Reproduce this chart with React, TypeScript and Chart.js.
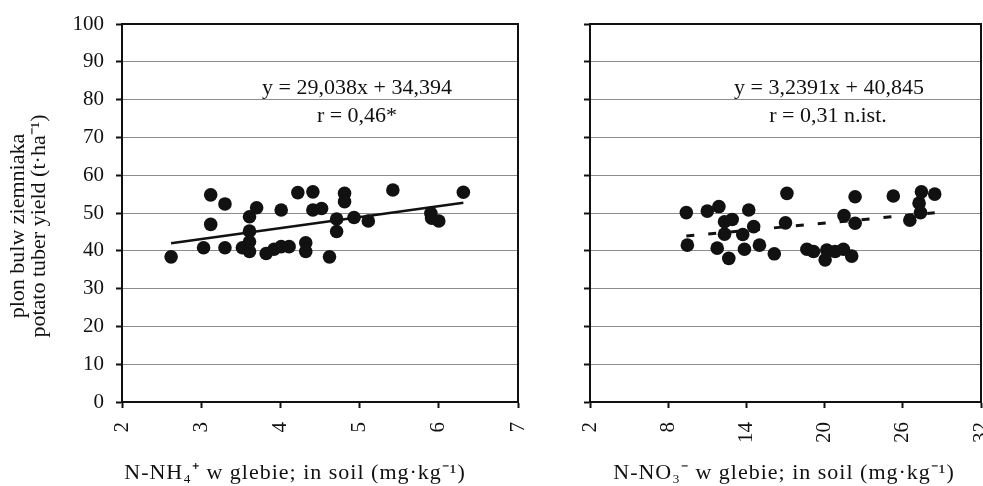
import React, { useEffect, useRef } from 'react';
import { Chart, registerables } from 'chart.js';

Chart.register(...registerables);

const FONT = '"Liberation Serif", "Times New Roman", Times, serif';
const INK = '#111111';

// ---- data: N-NH4+ panel ----
const nh4X = [2.62, 3.03, 3.12, 3.12, 3.30, 3.30, 3.52, 3.61, 3.61, 3.61, 3.61, 3.70, 3.82, 3.92, 4.01, 4.01, 4.11, 4.22, 4.32, 4.32, 4.41, 4.41, 4.52, 4.62, 4.71, 4.71, 4.81, 4.81, 4.93, 5.11, 5.42, 5.90, 5.91, 6.00, 6.31];
const nh4Yield = [38.4, 40.8, 54.8, 47.0, 52.4, 40.8, 40.8, 49.0, 45.2, 42.4, 39.8, 51.4, 39.3, 40.4, 41.1, 50.8, 41.1, 55.4, 42.1, 39.8, 55.6, 50.8, 51.2, 38.4, 48.4, 45.1, 55.2, 53.0, 48.8, 47.9, 56.1, 49.9, 48.6, 47.9, 55.5];
const nh4Trend = { slope: 2.9038, intercept: 34.394 };
const nh4Axis = { min: 2, max: 7, step: 1 };
const nh4Equation = ['y = 29,038x + 34,394', 'r = 0,46*'];
const nh4Title = 'N-NH\u2084\u207A w glebie; in soil (mg\u00B7kg\u207B\u00B9)';

// ---- data: N-NO3- panel ----
const no3X = [9.39, 9.47, 11.0, 11.89, 11.76, 12.32, 12.91, 12.32, 12.65, 13.72, 13.85, 14.18, 14.56, 15.0, 16.14, 17.11, 17.0, 18.64, 19.15, 20.17, 20.04, 20.81, 21.44, 22.08, 21.49, 22.34, 22.34, 25.27, 26.54, 27.25, 27.43, 27.36, 28.45];
const no3Yield = [50.1, 41.5, 50.5, 51.7, 40.7, 47.7, 48.3, 44.4, 38.0, 44.3, 40.4, 50.8, 46.4, 41.5, 39.2, 55.2, 47.4, 40.4, 39.8, 40.2, 37.6, 39.8, 40.4, 38.6, 49.3, 54.3, 47.3, 54.5, 48.1, 52.6, 55.6, 50.1, 55.0];
const no3Trend = { slope: 0.32391, intercept: 40.845 };
const no3Axis = { min: 2, max: 32, step: 6 };
const no3Equation = ['y = 3,2391x + 40,845', 'r = 0,31 n.ist.'];
const no3Title = 'N-NO\u2083\u207B w glebie; in soil (mg\u00B7kg\u207B\u00B9)';

// ---- shared y axis ----
const yieldAxis = { min: 0, max: 100, step: 10 };
const yTitle = ['plon bulw ziemniaka', 'potato tuber yield (t\u00B7ha\u207B\u00B9)'];

const W = 983;
const H = 486;

const textPlugin = {
  id: 'textItems',
  afterDraw(chart: any, _args: any, opts: any) {
    const ctx = chart.ctx;
    const items = (opts && opts.items) || [];
    items.forEach((it: any) => {
      ctx.save();
      ctx.font = `${it.size}px ${FONT}`;
      ctx.fillStyle = INK;
      ctx.textAlign = 'center';
      ctx.textBaseline = 'alphabetic';
      try {
        (ctx as any).letterSpacing = `${it.spacing || 0}px`;
      } catch (e) {
        /* ignore */
      }
      ctx.translate(it.x, it.y);
      if (it.rotate) ctx.rotate(it.rotate);
      ctx.fillText(it.text, 0, 0);
      ctx.restore();
    });
  },
};

const framePlugin = {
  id: 'frame',
  afterDatasetsDraw(chart: any) {
    const { ctx, chartArea: a } = chart;
    ctx.save();
    ctx.strokeStyle = INK;
    ctx.lineWidth = 2;
    ctx.beginPath();
    ctx.moveTo(a.left, a.top);
    ctx.lineTo(a.right, a.top);
    ctx.lineTo(a.right, a.bottom);
    ctx.stroke();
    ctx.restore();
  },
};

function trendPoints(xs: number[], t: { slope: number; intercept: number }) {
  const lo = Math.min(...xs);
  const hi = Math.max(...xs);
  return [lo, hi].map((x) => ({ x, y: t.slope * x + t.intercept }));
}

type PanelProps = {
  xs: number[];
  ys: number[];
  trend: { slope: number; intercept: number };
  dashed: boolean;
  xAxis: { min: number; max: number; step: number };
  showYLabels: boolean;
  yAxisWidth: number;
  padLeft: number;
  padRight: number;
  items: any[];
};

function Panel(p: PanelProps) {
  const ref = useRef<HTMLCanvasElement>(null);
  useEffect(() => {
    if (!ref.current) return;
    const chart = new Chart(ref.current, {
      type: 'scatter',
      data: {
        datasets: [
          {
            type: 'line' as any,
            data: trendPoints(p.xs, p.trend),
            borderColor: INK,
            borderWidth: p.dashed ? 3 : 2.5,
            borderDash: p.dashed ? [8, 14] : [],
            pointRadius: 0,
            fill: false,
            order: 2,
          } as any,
          {
            data: p.xs.map((x, i) => ({ x, y: p.ys[i] })),
            backgroundColor: INK,
            borderWidth: 0,
            pointRadius: 6.8,
            order: 1,
          },
        ],
      },
      options: {
        responsive: false,
        animation: false,
        layout: {
          autoPadding: false,
          padding: { left: p.padLeft, right: p.padRight, top: 24, bottom: 0 },
        },
        plugins: {
          legend: { display: false },
          tooltip: { enabled: false },
          textItems: { items: p.items },
        } as any,
        scales: {
          x: {
            type: 'linear',
            min: p.xAxis.min,
            max: p.xAxis.max,
            afterFit: (s: any) => {
              s.height = 84;
              s.paddingLeft = 0;
              s.paddingRight = 0;
            },
            ticks: {
              stepSize: p.xAxis.step,
              minRotation: 90,
              maxRotation: 90,
              padding: 14,
              color: INK,
              font: { family: FONT, size: 21 },
            },
            grid: {
              drawOnChartArea: false,
              drawTicks: true,
              tickLength: 6,
              tickColor: INK,
              tickWidth: 2,
            },
            border: { color: INK, width: 2 },
          },
          y: {
            type: 'linear',
            min: yieldAxis.min,
            max: yieldAxis.max,
            afterFit: (s: any) => {
              s.width = p.yAxisWidth;
              s.paddingTop = 0;
              s.paddingBottom = 0;
            },
            ticks: {
              stepSize: yieldAxis.step,
              display: p.showYLabels,
              padding: 12,
              color: INK,
              font: { family: FONT, size: 21 },
            },
            grid: {
              color: '#8c8c8c',
              lineWidth: 1,
              drawTicks: true,
              tickLength: 6,
              tickColor: INK,
              tickWidth: 2,
            },
            border: { color: INK, width: 2 },
          },
        },
      },
      plugins: [framePlugin, textPlugin],
    });
    return () => chart.destroy();
  }, []);
  return (
    <canvas
      ref={ref}
      width={W}
      height={H}
      style={{ position: 'absolute', left: 0, top: 0, width: W, height: H }}
    />
  );
}

const ROT = -Math.PI / 2;

export default function App() {
  const leftItems = [
    { text: yTitle[0], x: 24, y: 226, rotate: ROT, size: 22 },
    { text: yTitle[1], x: 45, y: 226, rotate: ROT, size: 22 },
    { text: nh4Title, x: 295, y: 479, size: 22, spacing: 1 },
    { text: nh4Equation[0], x: 357, y: 94, size: 22 },
    { text: nh4Equation[1], x: 357, y: 122, size: 22 },
  ];
  const rightItems = [
    { text: no3Title, x: 784, y: 479, size: 22, spacing: 1 },
    { text: no3Equation[0], x: 829, y: 94, size: 22 },
    { text: no3Equation[1], x: 828, y: 122, size: 22 },
  ];
  return (
    <div style={{ position: 'fixed', left: 0, top: 0, width: W, height: H, background: '#fff', overflow: 'hidden' }}>
      <Panel
        xs={nh4X}
        ys={nh4Yield}
        trend={nh4Trend}
        dashed={false}
        xAxis={nh4Axis}
        showYLabels={true}
        yAxisWidth={122}
        padLeft={0}
        padRight={W - 518}
        items={leftItems}
      />
      <Panel
        xs={no3X}
        ys={no3Yield}
        trend={no3Trend}
        dashed={true}
        xAxis={no3Axis}
        showYLabels={false}
        yAxisWidth={60}
        padLeft={530}
        padRight={2}
        items={rightItems}
      />
    </div>
  );
}
